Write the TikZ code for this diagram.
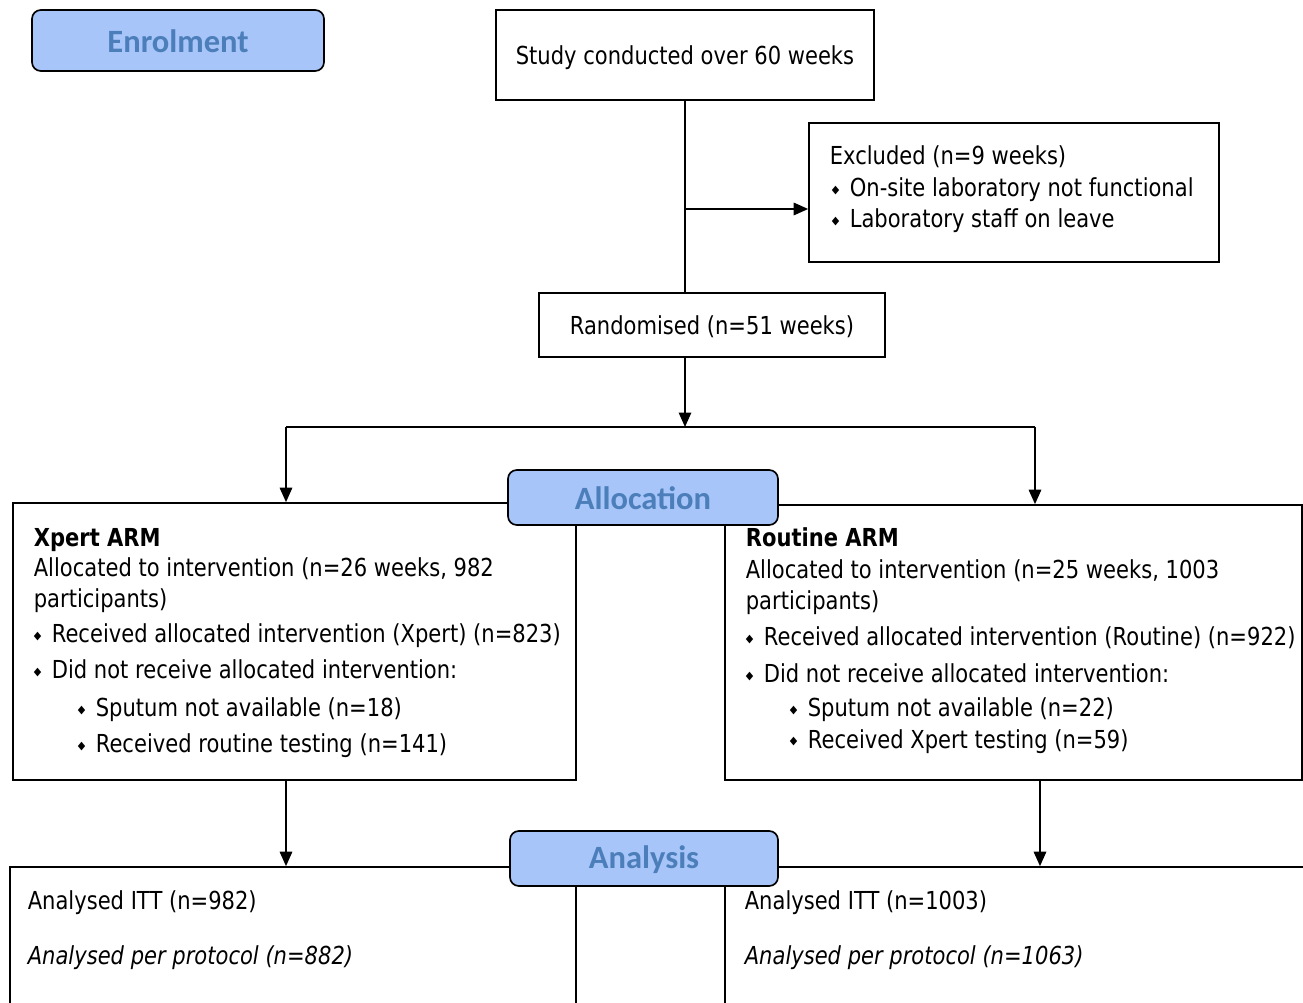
\documentclass[tikz,border=0pt]{standalone}
\usepackage{fontspec}
\setmainfont{DejaVu Sans}[FakeStretch=0.85]
\newfontfamily\phasefont{Carlito}
\usetikzlibrary{arrows.meta,fit}
\definecolor{phasefill}{RGB}{167,197,249}
\definecolor{phasetext}{RGB}{76,126,186}
\newcommand{\dmd}{\raisebox{2.2pt}{\fontsize{6.5}{7}\selectfont\char"25C6}\hspace{6pt}}

\begin{document}
\begin{tikzpicture}[x=0.02cm,y=-0.02cm,>={Triangle[length=2.9mm,width=2.5mm]},
	line width=0.95pt,
	box/.style={draw,rectangle,inner sep=0pt},
	phase/.style={draw,rounded corners=5pt,fill=phasefill,inner sep=0pt},
	phasetxt/.style={inner sep=0pt,font=\phasefont\bfseries\fontsize{18.5}{20}\selectfont,text=phasetext},
	txt/.style={anchor=base west,inner sep=0pt,font=\fontsize{14.1}{16}\selectfont},
	ctxt/.style={inner sep=0pt,font=\fontsize{14.1}{16}\selectfont},
	head/.style={txt,font=\fontsize{14.1}{16}\selectfont\bfseries}]
			%%%	Frame
			\useasboundingbox (0,0) rectangle (1303,1003);
			%%%	Boxes
			\node[box, fit={(496,10) (874,100)}] (study) {};
			\node[ctxt] (studyT) at ([yshift=-0.06cm]study.center) {Study conducted over 60 weeks};
			\node[box, fit={(809,123) (1219,262)}] (excl) {};
			\node[box, fit={(539,293) (885,357)}] (rand) {};
			\node[ctxt] (randT) at ([yshift=-0.03cm]rand.center) {Randomised (n=51 weeks)};
			\node[box, fit={(13,503) (576,780)}] (xpert) {};
			\node[box, fit={(725,505) (1302,780)}] (routine) {};
			\node[box, fit={(10,867) (576,1012)}] (ittL) {};
			\node[box, fit={(725,867) (1306,1012)}] (ittR) {};
			%%%	Texts
			\node[txt] (exclA) at (829,165) {Excluded (n=9 weeks)};
			\node[txt] (exclB) at (831,197) {\dmd On-site laboratory not functional};
			\node[txt] (exclC) at (831,228) {\dmd Laboratory staff on leave};
			\node[head] (xpA) at (33,547) {Xpert ARM};
			\node[txt] (xpB) at (33,577) {Allocated to intervention (n=26 weeks, 982};
			\node[txt] (xpC) at (33,608) {participants)};
			\node[txt] (xpD) at (33,643) {\dmd Received allocated intervention (Xpert) (n=823)};
			\node[txt] (xpE) at (33,679) {\dmd Did not receive allocated intervention:};
			\node[txt] (xpF) at (77,717) {\dmd Sputum not available (n=18)};
			\node[txt] (xpG) at (77,753) {\dmd Received routine testing (n=141)};
			\node[head] (rtA) at (745,547) {Routine ARM};
			\node[txt] (rtB) at (745,579) {Allocated to intervention (n=25 weeks, 1003};
			\node[txt] (rtC) at (745,610) {participants)};
			\node[txt] (rtD) at (745,646) {\dmd Received allocated intervention (Routine) (n=922)};
			\node[txt] (rtE) at (745,683) {\dmd Did not receive allocated intervention:};
			\node[txt] (rtF) at (789,717) {\dmd Sputum not available (n=22)};
			\node[txt] (rtG) at (789,748) {\dmd Received Xpert testing (n=59)};
			\node[txt] (ittLA) at (27,909) {Analysed ITT (n=982)};
			\node[txt] (ittLB) at (27,964) {\itshape Analysed per protocol (n=882)};
			\node[txt] (ittRA) at (744,909) {Analysed ITT (n=1003)};
			\node[txt] (ittRB) at (744,964) {\itshape Analysed per protocol (n=1063)};
			%%%	Connectors
			\coordinate (branch) at (685,209);
			\coordinate (split) at (685,427);
			\coordinate (splitL) at (286,427);
			\coordinate (splitR) at (1035,427);
			\coordinate (downR) at (1040,780);
			\draw (study.south) -- (study.south |- rand.north);
			\draw[->] (branch) -- (excl.west |- branch);
			\draw[->] (study.south |- rand.south) -- (split);
			\draw (splitL) -- (splitR);
			\draw[->] (splitL) -- (splitL |- xpert.north);
			\draw[->] (splitR) -- (splitR |- routine.north);
			\draw[->] (splitL |- xpert.south) -- (splitL |- ittL.north);
			\draw[->] (downR) -- (downR |- ittR.north);
			%%%	Phases
			\node[phase, fit={(32,10) (324,71)}] (enrol) {};
			\node[phasetxt] (enrolT) at ([yshift=-0.02cm]enrol.center) {Enrolment};
			\node[phase, fit={(508,470) (778,525)}] (alloc) {};
			\node[phasetxt] (allocT) at ([yshift=-0.02cm]alloc.center) {Allocation};
			\node[phase, fit={(510,831) (778,886)}] (anal) {};
			\node[phasetxt] (analT) at ([yshift=-0.02cm]anal.center) {Analysis};
		\end{tikzpicture}
\end{document}
